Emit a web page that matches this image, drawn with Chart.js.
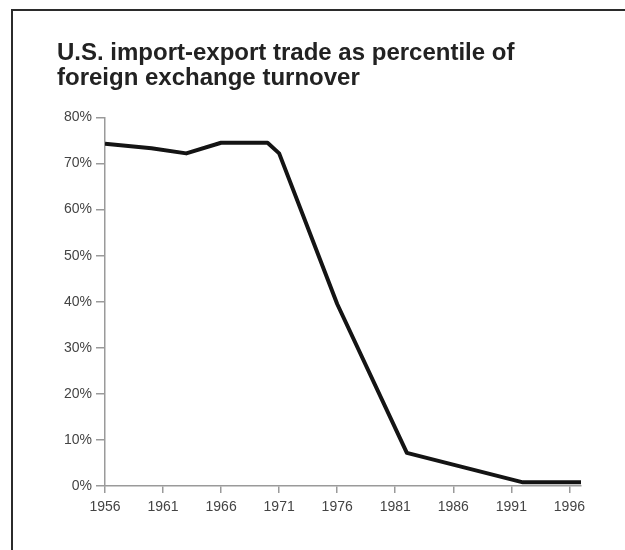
<!DOCTYPE html>
<html>
<head>
<meta charset="utf-8">
<script src="https://cdn.jsdelivr.net/npm/chart.js@4"></script>
<style>
  body { margin: 0; background: #fff; }
  #wrap { position: relative; width: 625px; height: 550px; }
  #frame {
    position: absolute; left: 11px; top: 9px; right: 0; bottom: 0;
    border-top: 2px solid #2b2b2b; border-left: 2px solid #2b2b2b;
    pointer-events: none;
  }
</style>
</head>
<body>
<div id="wrap">
  <canvas id="tradeChart" width="625" height="550"></canvas>
  <div id="frame"></div>
</div>
<script>
// values
const years = [1956, 1960, 1963, 1966, 1970, 1971, 1976, 1982, 1992, 1997];
const tradeShare = [74.3, 73.3, 72.2, 74.5, 74.5, 72.2, 39.5, 7.2, 0.8, 0.8];
const yearTicks = [1956, 1961, 1966, 1971, 1976, 1981, 1986, 1991, 1996];
const titleLines = ['U.S. import-export trade as percentile of', 'foreign exchange turnover'];

const points = years.map((y, i) => ({ x: y, y: tradeShare[i] }));
const tickFont = { family: 'Liberation Sans, Arial, sans-serif', size: 14 };

const ctx = document.getElementById('tradeChart').getContext('2d');
new Chart(ctx, {
    type: 'line',
    data: {
        datasets: [{
            data: points,
            borderColor: '#141414',
            borderWidth: 4,
            borderJoinStyle: 'round',
            pointRadius: 0,
            tension: 0,
            fill: false,
        }]
    },
    options: {
        responsive: false,
        animation: false,
        layout: { padding: { left: 57, right: 44, top: 41, bottom: 34 } },
        plugins: {
            legend: { display: false },
            tooltip: { enabled: false },
            title: {
                display: true,
                text: titleLines,
                align: 'start',
                color: '#222',
                font: { family: 'Liberation Sans, Arial, sans-serif', size: 24, weight: 'bold', lineHeight: 1.03 },
                padding: { top: 0, bottom: 27 }
            }
        },
        scales: {
            x: {
                type: 'linear',
                min: 1956,
                max: 1997,
                afterBuildTicks: (scale) => { scale.ticks = yearTicks.map(v => ({ value: v })); },
                afterFit: (scale) => { scale.height = 30; },
                border: { color: '#9a9a9a', width: 1.5 },
                grid: { drawOnChartArea: false, tickLength: 7, color: '#9a9a9a', lineWidth: 1.5 },
                ticks: { color: '#444', font: tickFont, padding: 6, maxRotation: 0, callback: (v) => String(v) }
            },
            y: {
                min: 0,
                max: 80,
                afterFit: (scale) => { scale.width = 48; },
                border: { color: '#9a9a9a', width: 1.5 },
                grid: { drawOnChartArea: false, tickLength: 9, color: '#9a9a9a', lineWidth: 1.5 },
                ticks: { stepSize: 10, color: '#444', font: tickFont, padding: 4, callback: (v) => v + '%' }
            }
        }
    }
});
</script>
</body>
</html>
